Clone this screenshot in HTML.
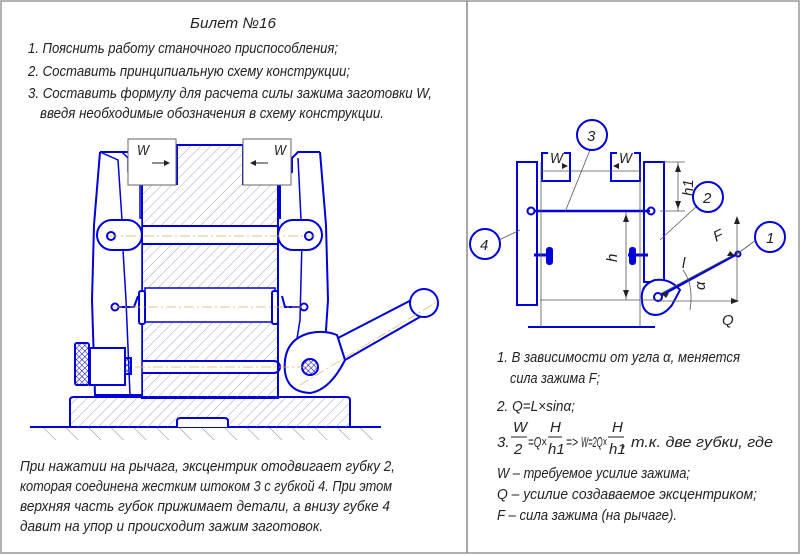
<!DOCTYPE html>
<html><head><meta charset="utf-8"><style>
html,body{margin:0;padding:0;background:#fff;}
svg{display:block;}
text{font-family:"Liberation Sans",sans-serif;font-style:italic;fill:#222;font-size:15px;}
</style></head><body>
<svg width="801" height="556" viewBox="0 0 801 556" xmlns="http://www.w3.org/2000/svg">
<defs>
<pattern id="h" width="7" height="7" patternUnits="userSpaceOnUse" patternTransform="rotate(45)">
<line x1="0" y1="0" x2="0" y2="7" stroke="#8a8ac0" stroke-width="0.8"/></pattern>
<pattern id="x" width="4" height="4" patternUnits="userSpaceOnUse" patternTransform="rotate(45)">
<line x1="0" y1="0" x2="0" y2="4" stroke="#0000d0" stroke-width="1"/><line x1="0" y1="0" x2="4" y2="0" stroke="#0000d0" stroke-width="1"/></pattern>
<pattern id="g" width="16" height="16" patternUnits="userSpaceOnUse" patternTransform="rotate(-45)">
<line x1="0" y1="0" x2="0" y2="16" stroke="#666" stroke-width="0.8"/></pattern>
</defs>
<rect x="1" y="1" width="798" height="552" fill="none" stroke="#999" stroke-width="1.5"/>
<line x1="467" y1="1" x2="467" y2="553" stroke="#888" stroke-width="1.5"/>

<text x="190" y="28" textLength="86" lengthAdjust="spacingAndGlyphs">Билет №16</text>
<text x="28" y="53" textLength="310" lengthAdjust="spacingAndGlyphs">1. Пояснить работу станочного приспособления;</text>
<text x="28" y="76" textLength="322" lengthAdjust="spacingAndGlyphs">2. Составить принципиальную схему конструкции;</text>
<text x="28" y="98" textLength="404" lengthAdjust="spacingAndGlyphs">3. Составить формулу для расчета силы зажима заготовки W,</text>
<text x="40" y="118" textLength="344" lengthAdjust="spacingAndGlyphs">введя необходимые обозначения в схему конструкции.</text>

<rect x="40" y="428" width="340" height="12" fill="url(#g)"/>
<g stroke="#0000d8" stroke-width="2" fill="none">
<line x1="30" y1="427" x2="381" y2="427"/>
<path d="M70 427 V400 Q70 397 74 397 H346 Q350 397 350 400 V427" fill="url(#h)"/>
<path d="M177 427 V421 Q177 418 181 418 H224 Q228 418 228 421 V427" fill="#fff"/>
<path d="M177 145 H243 V184 H278 V398 H142 V184 H177 Z" fill="url(#h)"/>
<rect x="142" y="226" width="136" height="18" fill="#fff"/>
<rect x="145" y="288" width="130" height="34" fill="#fff" stroke-width="1.5"/>
<rect x="130" y="361" width="150" height="12" rx="6" fill="#fff"/>
<path d="M100 152 H122 L128 158 V172 L140 180 V218 H142 V395 H130 L126 300 L123 250 L122 220 L118 160 Z" fill="#fff" stroke-width="1.5"/>
<path d="M100 152 L94 225 L92 300 L95 395 H142" fill="none"/>
<path d="M100 152 L128 152"/>
<path d="M320 152 H298 L292 158 V172 L280 180 V218 H278 V395" fill="none"/>
<path d="M320 152 L326 225 L328 300 L325 345"/>
<path d="M298 158 L302 240 L300 320 L296 345" stroke-width="1.5"/>
<rect x="97" y="220" width="45" height="30" rx="15" fill="#fff"/>
<circle cx="111" cy="236" r="4"/>
<rect x="278" y="220" width="44" height="30" rx="15" fill="#fff"/>
<circle cx="309" cy="236" r="4"/>
<circle cx="115" cy="307" r="3.5"/><path d="M118 307 H134 L138 296"/>
<rect x="139" y="291" width="6" height="33" rx="2" fill="#fff"/>
<circle cx="304" cy="307" r="3.5"/><path d="M301 307 H285 L282 296"/>
<rect x="272" y="291" width="6" height="33" rx="2" fill="#fff"/>
<rect x="75" y="343" width="14" height="42" rx="2" fill="url(#x)"/>
<rect x="90" y="348" width="35" height="37" fill="#fff"/>
<rect x="125" y="358" width="6" height="16" fill="url(#x)"/>
<path d="M338 338 L427 292 L432 310 L345 360 Z" fill="#fff"/>
<circle cx="424" cy="303" r="14" fill="#fff"/>
<path d="M285 372 Q282 340 310 333 Q325 330 337 335 L345 360 Q330 390 310 393 Q288 392 285 372 Z" fill="#fff"/>
<circle cx="310" cy="367" r="8" fill="url(#x)"/>
</g>
<g stroke="#666" stroke-width="1" fill="#fff">
<rect x="128" y="139" width="48" height="46"/>
<rect x="243" y="139" width="48" height="46"/>
</g>
<text x="137" y="155" textLength="12" lengthAdjust="spacingAndGlyphs">W</text>
<text x="274" y="155" textLength="12" lengthAdjust="spacingAndGlyphs">W</text>
<path d="M152 163 H164" stroke="#222"/><path d="M164 160 L170 163 L164 166 Z" fill="#222"/>
<path d="M268 163 H256" stroke="#222"/><path d="M256 160 L250 163 L256 166 Z" fill="#222"/>
<g stroke="#e0b060" stroke-width="0.7" stroke-dasharray="10 3 2 3">
<line x1="108" y1="236" x2="315" y2="236"/><line x1="112" y1="307" x2="308" y2="307"/>
<line x1="300" y1="385" x2="440" y2="300"/><line x1="135" y1="367" x2="315" y2="367"/>
</g>

<text x="20" y="471" textLength="375" lengthAdjust="spacingAndGlyphs">При нажатии на рычага, эксцентрик отодвигает губку 2,</text>
<text x="20" y="491" textLength="372" lengthAdjust="spacingAndGlyphs">которая соединена жестким штоком 3 с губкой 4. При этом</text>
<text x="20" y="511" textLength="370" lengthAdjust="spacingAndGlyphs">верхняя часть губок прижимает детали, а внизу губке 4</text>
<text x="20" y="531" textLength="303" lengthAdjust="spacingAndGlyphs">давит на упор и происходит зажим заготовок.</text>

<g stroke="#0000d8" stroke-width="2" fill="none">
<rect x="517" y="162" width="20" height="143"/>
<rect x="644" y="162" width="20" height="120"/>
<line x1="528" y1="327" x2="655" y2="327"/>
<line x1="535" y1="211" x2="650" y2="211" stroke-width="2.5"/>
<circle cx="531" cy="211" r="3.5"/><circle cx="651" cy="211" r="3.5"/>
<path d="M542 158 V153 H548 M564 153 H570 V181 H542 V158"/>
<path d="M611 158 V153 H617 M634 153 H640 V181 H611 V158"/>
<path d="M534 255 H546 M628 255 H648" stroke-width="3"/>
<rect x="547" y="248" width="5" height="16" rx="2" fill="#0000d8"/>
<rect x="630" y="248" width="5" height="16" rx="2" fill="#0000d8"/>
<path d="M642 300 Q640 285 655 280 Q670 278 680 290 L672 305 Q662 318 650 314 Q642 310 642 300 Z" fill="#fff"/>
<line x1="658" y1="297" x2="737" y2="254" stroke-width="2.5"/>
<circle cx="658" cy="297" r="4" fill="#fff"/>
<circle cx="738" cy="254" r="2.5"/>
</g>
<g stroke="#555" stroke-width="0.8" fill="none">
<line x1="541" y1="162" x2="541" y2="327"/><line x1="640" y1="162" x2="640" y2="327"/>
<line x1="541" y1="171" x2="640" y2="171"/>
<line x1="664" y1="162" x2="685" y2="162"/><line x1="660" y1="211" x2="685" y2="211"/>
<line x1="678" y1="162" x2="678" y2="211"/>
<line x1="626" y1="212" x2="626" y2="300"/>
<line x1="540" y1="300" x2="660" y2="300"/>
<line x1="737" y1="218" x2="737" y2="301"/>
<line x1="660" y1="301" x2="737" y2="301"/>
<line x1="590" y1="150" x2="565" y2="212"/>
<line x1="697" y1="206" x2="660" y2="240"/>
<line x1="499" y1="240" x2="520" y2="230"/>
<line x1="756" y1="240" x2="737" y2="254"/>
<line x1="660" y1="294" x2="735" y2="254"/>
<path d="M683 270 Q694 285 690 310"/>
</g>
<g fill="#222">
<path d="M568 166 l-6 -3 v6z"/><path d="M613 166 l6 -3 v6z"/>
<path d="M678 164 l-3 8 h6z"/><path d="M678 209 l-3 -8 h6z"/>
<path d="M626 214 l-3 8 h6z"/><path d="M626 298 l-3 -8 h6z"/>
<path d="M737 216 l-3 8 h6z"/><path d="M739 301 l-8 -3 v6z"/>
<path d="M735 256 l-8 0 l3 -5z"/><path d="M661 293 l8 0 l-3 5z"/>
</g>
<g fill="#fff" stroke="#0000d8" stroke-width="2">
<circle cx="592" cy="135" r="15"/><circle cx="708" cy="197" r="15"/>
<circle cx="485" cy="244" r="15"/><circle cx="770" cy="237" r="15"/>
</g>
<text x="587" y="141">3</text><text x="703" y="203">2</text>
<text x="480" y="250">4</text><text x="766" y="243">1</text>
<text x="550" y="163" textLength="13" lengthAdjust="spacingAndGlyphs">W</text>
<text x="619" y="163" textLength="13" lengthAdjust="spacingAndGlyphs">W</text>
<text transform="translate(693,196) rotate(-90)" font-size="14">h1</text>
<text transform="translate(617,262) rotate(-90)" font-size="14">h</text>
<text x="716" y="242" transform="rotate(-25 716 242)">F</text>
<text x="682" y="268" font-size="14">l</text>
<text transform="translate(705,290) rotate(-90)" font-size="13">α</text>
<text x="722" y="325">Q</text>

<text x="497" y="362" textLength="243" lengthAdjust="spacingAndGlyphs">1. В зависимости от угла α, меняется</text>
<text x="510" y="383" textLength="90" lengthAdjust="spacingAndGlyphs">сила зажима F;</text>
<text x="497" y="411" textLength="78" lengthAdjust="spacingAndGlyphs">2. Q=L×sinα;</text>
<text x="497" y="447">3.</text>
<text x="513" y="432" font-size="14">W</text><line x1="511" y1="437" x2="527" y2="437" stroke="#222"/>
<text x="514" y="454" font-size="14">2</text>
<text x="528" y="447" font-size="11" textLength="19" lengthAdjust="spacingAndGlyphs">=Q×</text>
<text x="550" y="432" font-size="14">H</text><line x1="548" y1="437" x2="562" y2="437" stroke="#222"/>
<text x="548" y="454" font-size="14">h1</text>
<text x="566" y="447" font-size="11" textLength="12" lengthAdjust="spacingAndGlyphs">=&gt;</text>
<text x="581" y="447" font-size="12" textLength="26" lengthAdjust="spacingAndGlyphs">W=2Q×</text>
<text x="612" y="432" font-size="14">H</text><line x1="608" y1="437" x2="624" y2="437" stroke="#222"/>
<text x="609" y="454" font-size="14">h1</text>
<text x="622" y="447" textLength="151" lengthAdjust="spacingAndGlyphs">, т.к. две губки, где</text>
<text x="497" y="478" textLength="193" lengthAdjust="spacingAndGlyphs">W – требуемое усилие зажима;</text>
<text x="497" y="499" textLength="260" lengthAdjust="spacingAndGlyphs">Q – усилие создаваемое эксцентриком;</text>
<text x="497" y="520" textLength="180" lengthAdjust="spacingAndGlyphs">F – сила зажима (на рычаге).</text>
</svg>
</body></html>
